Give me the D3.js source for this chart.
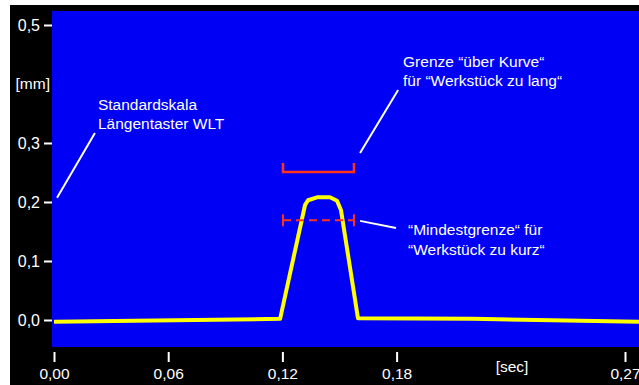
<!DOCTYPE html>
<html>
<head>
<meta charset="utf-8">
<script src="https://cdn.jsdelivr.net/npm/d3@7"></script>
<style>
  body { margin: 0; background: #fff; }
  text { font-family: "Liberation Sans", Arial, sans-serif; fill: #fff; }
</style>
</head>
<body>
<div id="chart"></div>
<script>
// data
const curveTime  = [0, 0.1188, 0.1319, 0.1335, 0.1382, 0.1450, 0.1487, 0.1508, 0.1597, 0.2200, 0.3074];
const curveValue = [-0.003, 0.002, 0.195, 0.203, 0.208, 0.208, 0.202, 0.186, 0.003, 0.002, -0.003];

const limitTime = [0.1203, 0.1576];
const upperLimit = 0.251;   // Grenze "über Kurve"
const lowerLimit = 0.169;   // Mindestgrenze

const xTickValues = [0, 0.06, 0.12, 0.18, 0.30];
const xTickLabels = ["0,00", "0,06", "0,12", "0,18", "0,27"];
const yTickValues = [0, 0.1, 0.2, 0.3, 0.5];
const yTickLabels = ["0,0", "0,1", "0,2", "0,3", "0,5"];

// annotations: text lines, text anchor and leader line (in data units)
const annotations = [
  {lines: ["Standardskala", "Längentaster WLT"], at: [0.0231, 0.356], leader: [[0.0016, 0.207], [0.0215, 0.317]]},
  {lines: ["Grenze “über Kurve“", "für “Werkstück zu lang“"], at: [0.1834, 0.429], leader: [[0.1608, 0.283], [0.1808, 0.390]]},
  {lines: ["“Mindestgrenze“ für", "“Werkstück zu kurz“"], at: [0.1860, 0.144], leader: [[0.1608, 0.168], [0.1797, 0.156]]}
];

const W = 639, H = 385;
const plot = {left: 52, top: 11, right: 639, bottom: 347};

const svg = d3.select("#chart")
    .append("svg")
        .attr("width", W)
        .attr("height", H);

// black frame and blue plot area
svg.append("rect")
    .attr("x", 10).attr("y", 5)
    .attr("width", W - 10).attr("height", H - 5)
    .attr("fill", "#000");

svg.append("rect")
    .attr("x", plot.left).attr("y", plot.top)
    .attr("width", plot.right - plot.left).attr("height", plot.bottom - plot.top)
    .attr("fill", "#0000f5");

const x = d3.scaleLinear()
    .domain([0, 0.30])
    .range([54, 625]);

const y = d3.scaleLinear()
    .domain([0, 0.5])
    .range([320, 25]);

// X axis
const xAxis = svg.append("g")
    .attr("transform", `translate(0, 352)`)
    .call(d3.axisBottom(x)
        .tickValues(xTickValues)
        .tickFormat((d, i) => xTickLabels[i])
        .tickSize(10)
        .tickPadding(6));

// Y axis
const yAxis = svg.append("g")
    .attr("transform", `translate(${plot.left}, 0)`)
    .call(d3.axisLeft(y)
        .tickValues(yTickValues)
        .tickFormat((d, i) => yTickLabels[i])
        .tickSize(8)
        .tickPadding(4));

[xAxis, yAxis].forEach(a => {
    a.select(".domain").remove();
    a.selectAll(".tick line").attr("stroke", "#fff").attr("stroke-width", 2);
    a.selectAll(".tick text")
        .attr("fill", "#fff")
        .style("font-family", "'Liberation Sans', Arial, sans-serif");
});
xAxis.selectAll(".tick text").style("font-size", "15.5px");
yAxis.selectAll(".tick text").style("font-size", "16px");

svg.append("text")
    .attr("x", 50)
    .attr("y", y(0.4))
    .attr("dy", "0.32em")
    .attr("text-anchor", "end")
    .style("font-size", "15.5px")
    .text("[mm]");

svg.append("text")
    .attr("x", 512)
    .attr("y", 372)
    .attr("text-anchor", "middle")
    .style("font-size", "15.5px")
    .text("[sec]");

// clip for the curve
svg.append("clipPath")
    .attr("id", "plotClip")
    .append("rect")
        .attr("x", plot.left).attr("y", plot.top)
        .attr("width", plot.right - plot.left).attr("height", plot.bottom - plot.top);

const curve = curveTime.map((t, i) => [t, curveValue[i]]);

const line = d3.line()
    .x(d => x(d[0]))
    .y(d => y(d[1]));

svg.append("path")
    .datum(curve)
    .attr("clip-path", "url(#plotClip)")
    .attr("d", line)
    .attr("fill", "none")
    .attr("stroke", "#ffff00")
    .attr("stroke-width", 4)
    .attr("stroke-linejoin", "round");

// red limits
const red = "#ff3318";

// upper limit: bracket open upward
svg.append("path")
    .attr("d", d3.line()([
        [x(limitTime[0]), y(upperLimit) - 9],
        [x(limitTime[0]), y(upperLimit)],
        [x(limitTime[1]), y(upperLimit)],
        [x(limitTime[1]), y(upperLimit) - 9]
    ]))
    .attr("fill", "none")
    .attr("stroke", red)
    .attr("stroke-width", 2.5);

// lower limit: dashed with end caps
svg.append("line")
    .attr("x1", x(limitTime[0])).attr("x2", x(limitTime[1]))
    .attr("y1", y(lowerLimit)).attr("y2", y(lowerLimit))
    .attr("stroke", red)
    .attr("stroke-width", 2)
    .attr("stroke-dasharray", "8,5");

svg.selectAll(".cap")
    .data(limitTime)
    .join("line")
        .attr("class", "cap")
        .attr("x1", d => x(d)).attr("x2", d => x(d))
        .attr("y1", y(lowerLimit) - 6).attr("y2", y(lowerLimit) + 6)
        .attr("stroke", red)
        .attr("stroke-width", 2);

// annotations
annotations.forEach(a => {
    svg.append("line")
        .attr("x1", x(a.leader[0][0])).attr("y1", y(a.leader[0][1]))
        .attr("x2", x(a.leader[1][0])).attr("y2", y(a.leader[1][1]))
        .attr("stroke", "#fff")
        .attr("stroke-width", 2);

    const t = svg.append("text")
        .attr("x", x(a.at[0]))
        .attr("y", y(a.at[1]))
        .style("font-size", "15.5px");

    a.lines.forEach((l, i) => {
        t.append("tspan")
            .attr("x", x(a.at[0]))
            .attr("dy", i === 0 ? 0 : 19.5)
            .text(l);
    });
});
</script>
</body>
</html>
